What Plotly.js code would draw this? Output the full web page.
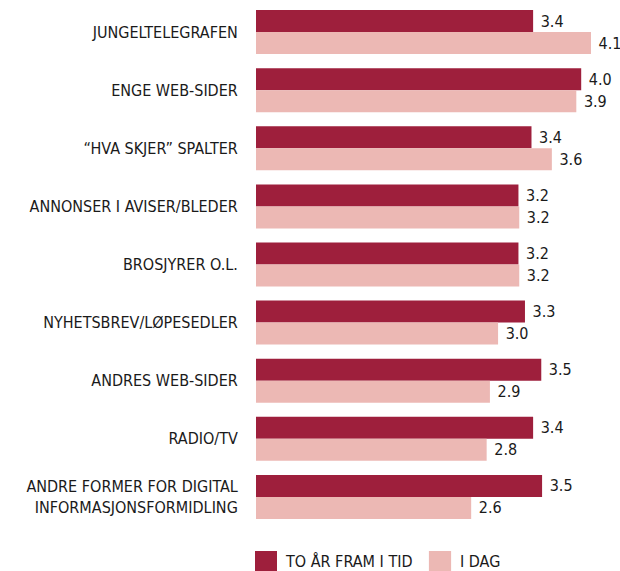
<!DOCTYPE html>
<html>
<head>
<meta charset="utf-8">
<script src="https://cdn.plot.ly/plotly-3.0.1.min.js"></script>
<style>html,body{margin:0;padding:0;background:#fff;}#chart{width:620px;height:571px;}</style>
</head>
<body>
<div id="chart"></div>
<script>
const categories = [
  "JUNGELTELEGRAFEN",
  "ENGE WEB-SIDER",
  "\u201cHVA SKJER\u201d SPALTER",
  "ANNONSER I AVISER/BLEDER",
  "BROSJYRER O.L.",
  "NYHETSBREV/L\u00d8PESEDLER",
  "ANDRES WEB-SIDER",
  "RADIO/TV",
  "ANDRE FORMER FOR DIGITAL<br>INFORMASJONSFORMIDLING"
];
const seriesNames = ["TO \u00c5R FRAM I TID", "I DAG"];
const toAarFram = [3.40, 3.99, 3.38, 3.22, 3.22, 3.30, 3.50, 3.40, 3.51];
const iDag      = [4.11, 3.93, 3.63, 3.23, 3.23, 2.97, 2.87, 2.83, 2.64];
const colors = ["#9e1f3c", "#ecb8b4"];

const FONT = "'Liberation Sans Narrow', 'Arial Narrow', 'DejaVu Sans Condensed', sans-serif";

const traces = [toAarFram, iDag].map((vals, i) => ({
  type: "bar",
  orientation: "h",
  name: seriesNames[i],
  y: categories,
  x: vals,
  marker: {color: colors[i], line: {width: 0}},
  texttemplate: "\u00a0%{x:.1f}",
  textposition: "outside",
  cliponaxis: false,
  textfont: {family: FONT, size: 16, color: "#1a1a1a"},
  hoverinfo: "skip"
}));

// legend drawn as shapes + annotations (paper coords)
const legendShapes = [
  {type: "rect", xref: "paper", yref: "paper", x0: -0.0027, x1: 0.0577, y0: -0.0899, y1: -0.0478,
   fillcolor: colors[0], line: {width: 0}},
  {type: "rect", xref: "paper", yref: "paper", x0: 0.475, x1: 0.536, y0: -0.0899, y1: -0.0478,
   fillcolor: colors[1], line: {width: 0}}
];
const legendAnn = [
  {xref: "paper", yref: "paper", x: 0.075, y: -0.0688, xanchor: "left", yanchor: "middle",
   text: seriesNames[0], showarrow: false, font: {family: FONT, size: 16, color: "#1a1a1a"}},
  {xref: "paper", yref: "paper", x: 0.556, y: -0.0688, xanchor: "left", yanchor: "middle",
   text: seriesNames[1], showarrow: false, font: {family: FONT, size: 16, color: "#1a1a1a"}}
];

const layout = {
  width: 620, height: 571,
  margin: {l: 256, r: 0, t: 3, b: 45, pad: 0},
  paper_bgcolor: "#ffffff", plot_bgcolor: "#ffffff",
  barmode: "group", bargap: 0.243, bargroupgap: 0,
  showlegend: false,
  font: {family: FONT, size: 16, color: "#1a1a1a"},
  xaxis: {range: [0, 4.466], visible: false, fixedrange: true},
  yaxis: {
    type: "category", autorange: "reversed",
    showgrid: false, zeroline: false, showline: false,
    ticks: "outside", ticklen: 14, tickcolor: "rgba(0,0,0,0)",
    tickfont: {family: FONT, size: 16, color: "#1a1a1a"},
    fixedrange: true
  },
  shapes: legendShapes,
  annotations: legendAnn
};

Plotly.newPlot("chart", traces, layout, {displayModeBar: false, staticPlot: true});
</script>
</body>
</html>
